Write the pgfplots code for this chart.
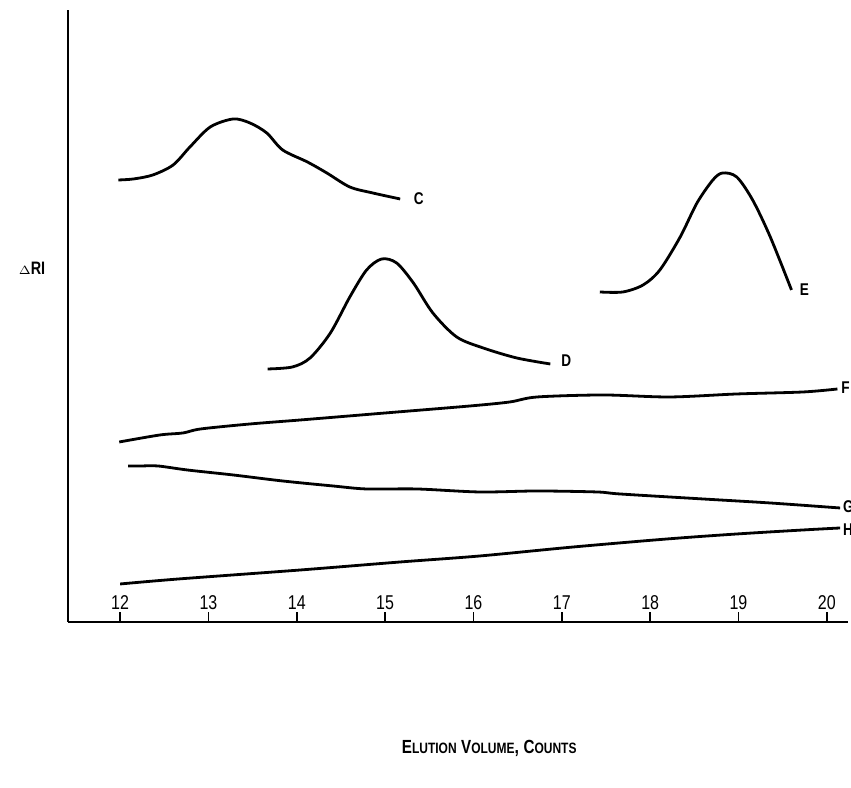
\documentclass[border=0pt]{standalone}
\usepackage{pgfplots}
\pgfplotsset{compat=1.18}
\usepackage{fontspec}
\setmainfont{Liberation Sans}[FakeStretch=0.8]

\newcommand{\curvelab}[1]{{\fontsize{8.5}{10}\selectfont\bfseries #1}}
\newcommand{\sml}[1]{{\fontsize{7.5}{9}\selectfont #1}}

\pgfplotsset{curve/.style={black, solid, mark=none, line width=1.4pt, smooth, tension=0.5}}

\begin{document}
\begin{tikzpicture}
  \begin{axis}[
    scale only axis,
    width=390pt, height=306pt,
    xmin=11.41, xmax=20.24,
    ymin=0, ymax=612,
    axis x line*=bottom,
    axis y line*=left,
    axis line style={line width=1.2pt, -},
    xtick={12,...,20},
    ytick=\empty,
    xtick align=inside,
    major tick length=5pt,
    every tick/.style={black, line width=0.8pt},
    xticklabel style={anchor=south, inner sep=0pt, yshift=6pt,
      font=\fontsize{10}{12}\selectfont},
    /pgf/number format/assume math mode=true,
    xlabel={\bfseries{\fontsize{9.5}{11}\selectfont E}\sml{LUTION} {\fontsize{9.5}{11}\selectfont V}\sml{OLUME}, {\fontsize{9.5}{11}\selectfont C}\sml{OUNTS}},
    xlabel style={at={(axis description cs:0.54,0)}, anchor=center, yshift=-63pt},
    ylabel={\bfseries{\fontsize{6.5}{8}\selectfont$\Delta$}{\fontsize{9}{11}\selectfont RI}},
    ylabel style={rotate=-90, at={(axis description cs:0,0.578)}, anchor=center, xshift=-18pt},
    clip=false,
  ]
    % C
    \addplot[curve] coordinates {
      (11.98,442) (12.15,443) (12.37,447) (12.60,457) (12.79,475) (13.02,495)
      (13.28,503) (13.47,499) (13.66,489) (13.84,472) (14.12,460) (14.34,449)
      (14.60,435) (14.86,429) (15.17,423)
    };
    % D
    \addplot[curve] coordinates {
      (13.67,253) (13.95,255) (14.15,264) (14.38,289) (14.60,325) (14.79,352)
      (14.96,363) (15.13,359) (15.32,339) (15.54,309) (15.81,285) (16.11,274)
      (16.49,264) (16.87,258)
    };
    % E
    \addplot[curve] coordinates {
      (17.43,330) (17.69,330) (17.92,337) (18.11,352) (18.34,385) (18.53,419)
      (18.71,442) (18.82,449) (18.98,445) (19.16,422) (19.36,385) (19.60,332)
    };
    % F
    \addplot[curve] coordinates {
      (11.99,180) (12.45,187) (12.71,189) (12.91,193) (13.47,198) (14.04,202)
      (15.00,209) (15.96,216) (16.41,220) (16.72,225) (17.47,227) (18.22,225)
      (18.98,228) (19.73,230) (20.12,233)
    };
    % G
    \addplot[curve] coordinates {
      (12.09,156) (12.23,156) (12.43,156) (12.76,152) (13.28,147) (13.84,141)
      (14.41,136) (14.79,133) (15.36,133) (16.07,130) (16.72,131) (17.40,130)
      (17.66,128) (18.60,123) (19.36,119) (20.15,114)
    };
    % H
    \addplot[curve] coordinates {
      (12.00,38) (12.66,43) (14.04,52) (15.17,60) (16.07,66) (17.13,75)
      (18.19,83) (18.98,88) (19.73,92) (20.15,94)
    };

    \node[anchor=west, inner sep=0pt] at (axis cs:15.32,423) {\curvelab{C}};
    \node[anchor=west, inner sep=0pt] at (axis cs:16.99,261) {\curvelab{D}};
    \node[anchor=west, inner sep=0pt] at (axis cs:19.69,332) {\curvelab{E}};
    \node[anchor=west, inner sep=0pt] at (axis cs:20.16,234) {\curvelab{F}};
    \node[anchor=west, inner sep=0pt] at (axis cs:20.18,115) {\curvelab{G}};
    \node[anchor=west, inner sep=0pt] at (axis cs:20.18,92) {\curvelab{H}};

    \coordinate (bl) at (rel axis cs:-0.0872,-0.27);
    \coordinate (tr) at (rel axis cs:1.0038,1.0163);
  \end{axis}
  \pgfresetboundingbox
  \path[use as bounding box] (bl) rectangle (tr);
\end{tikzpicture}
\end{document}
